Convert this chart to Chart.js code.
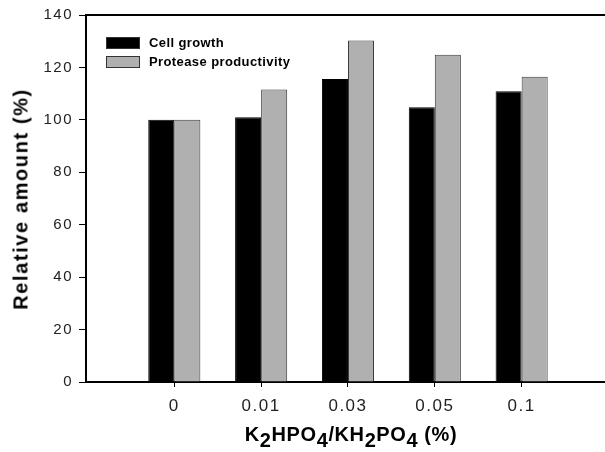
<!DOCTYPE html>
<html>
<head>
<meta charset="utf-8">
<script src="https://cdn.jsdelivr.net/npm/chart.js@4"></script>
<style>
  body { margin: 0; background: #fff; overflow: hidden; }
  #wrap { position: relative; width: 605px; height: 452px; font-family: Arial, "Liberation Sans", sans-serif; }
  #chart { position: absolute; left: 0; top: 0; }
  #legend { position: absolute; left: 106px; top: 33px; }
  #legend .row { display: flex; align-items: center; height: 19px; font-weight: bold; font-size: 13px; letter-spacing: 0.4px; color: #000; }
  #legend .box { width: 32px; height: 10px; border: 1px solid #333; margin-right: 9px; }
  #xtitle { position: absolute; left: 0; width: 702px; top: 423px; text-align: center; font-weight: bold; font-size: 20px; letter-spacing: 0.6px; color: #000; }
  #xtitle sub { font-size: 20px; vertical-align: -6px; line-height: 0; }
  #ytitle { position: absolute; left: 21px; top: 199px; transform: translate(-50%, -50%) rotate(-90deg); white-space: nowrap; font-weight: bold; font-size: 20px; letter-spacing: 1.6px; color: #000; }
</style>
</head>
<body>
<div id="wrap">
  <canvas id="chart" width="605" height="452"></canvas>
  <div id="legend"></div>
  <div id="ytitle">Relative amount (%)</div>
  <div id="xtitle">K<sub>2</sub>HPO<sub>4</sub>/KH<sub>2</sub>PO<sub>4</sub> (%)</div>
</div>
<script>
// concentrations (x categories)
var categories = ['0', '0.01', '0.03', '0.05', '0.1'];
// relative amounts (%)
var cellGrowth = [100, 101, 115.6, 104.8, 110.9];
var proteaseProductivity = [100, 111.6, 130.3, 124.8, 116.4];
var yTicks = [0, 20, 40, 60, 80, 100, 120, 140];

var seriesNames = ['Cell growth', 'Protease productivity'];
var seriesColors = ['#000000', '#b0b0b0'];
var seriesBorders = ['#000000', '#3a3a3a'];

// legende en HTML
var legend = document.getElementById('legend');
seriesNames.forEach(function(name, i) {
    var row = document.createElement('div');
    row.className = 'row';
    row.innerHTML = '<span class="box" style="background:' + seriesColors[i] + '"></span>' + name;
    legend.appendChild(row);
});

// bordure du haut du cadre
var topBorder = {
    id: 'topBorder',
    beforeDraw: function(chart) {
        chart.ctx.letterSpacing = '1.5px';
    },
    afterDraw: function(chart) {
        var a = chart.chartArea, ctx = chart.ctx;
        ctx.save();
        ctx.strokeStyle = '#000';
        ctx.lineWidth = 2;
        ctx.beginPath();
        ctx.moveTo(a.left, a.top);
        ctx.lineTo(a.right, a.top);
        ctx.stroke();
        ctx.restore();
    }
};

function toPoints(values) {
    return values.map(function(v, i) { return { x: i, y: v }; });
}

var ctx = document.getElementById('chart').getContext('2d');
var myChart = new Chart(ctx, {
    type: 'bar',
    data: {
        datasets: [{
            label: seriesNames[0],
            data: toPoints(cellGrowth),
            backgroundColor: seriesColors[0],
            borderColor: seriesBorders[0],
            borderWidth: 1
        }, {
            label: seriesNames[1],
            data: toPoints(proteaseProductivity),
            backgroundColor: seriesColors[1],
            borderColor: seriesBorders[1],
            borderWidth: 1
        }]
    },
    options: {
        responsive: false,
        animation: false,
        categoryPercentage: 0.6,
        barPercentage: 1.0,
        layout: { padding: { top: 15, right: 0, left: 0, bottom: 0 } },
        plugins: {
            legend: { display: false },
            tooltip: { enabled: false }
        },
        scales: {
            x: {
                type: 'linear',
                offset: false,
                min: -1.017,
                max: 4.96,
                afterFit: function(scale) { scale.height = 70; },
                afterBuildTicks: function(scale) {
                    scale.ticks = categories.map(function(_, i) { return { value: i }; });
                },
                ticks: {
                    callback: function(value) { return categories[value]; },
                    color: '#222',
                    font: { family: 'Arial, "Liberation Sans"', size: 17 },
                    padding: 9,
                    maxRotation: 0
                },
                grid: { offset: false, drawOnChartArea: false, tickLength: 5, color: '#000', tickWidth: 1 },
                border: { color: '#000', width: 2 }
            },
            y: {
                min: 0,
                max: 140,
                afterFit: function(scale) { scale.width = 86; },
                afterBuildTicks: function(scale) {
                    scale.ticks = yTicks.map(function(v) { return { value: v }; });
                },
                ticks: {
                    color: '#222',
                    font: { family: 'Arial, "Liberation Sans"', size: 15 },
                    padding: 6
                },
                grid: { drawOnChartArea: false, tickLength: 7, color: '#000', tickWidth: 1 },
                border: { color: '#000', width: 2 }
            }
        }
    },
    plugins: [topBorder]
});
</script>
</body>
</html>
